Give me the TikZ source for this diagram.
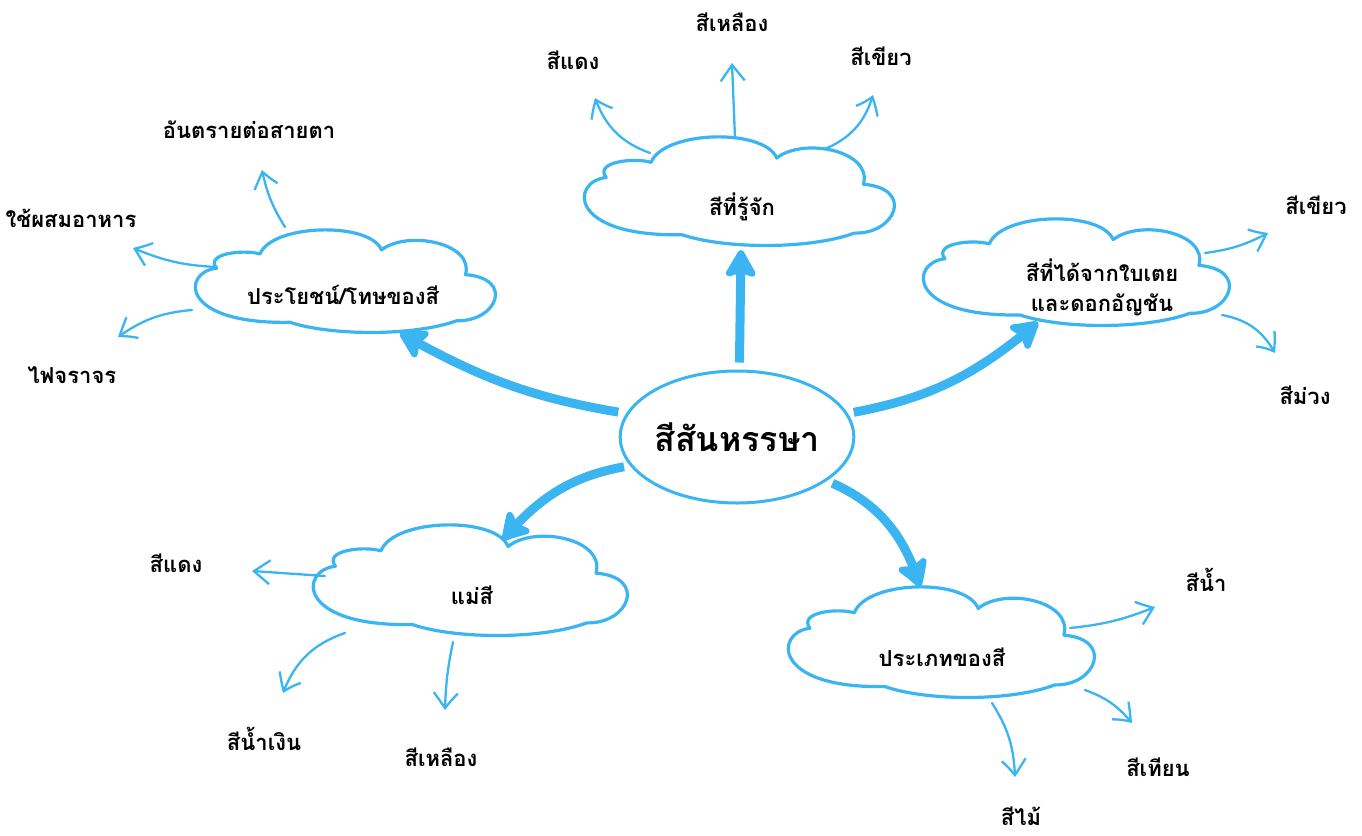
\documentclass[tikz,border=0pt]{standalone}
\usepackage{fontspec}
\newfontfamily\thaifont[Script=Thai]{Loma}
\usetikzlibrary{arrows.meta,bending,shapes.geometric}
\definecolor{sky}{HTML}{3BB4F2}
\tikzset{
  leaf/.style={font=\thaifont\bfseries\fontsize{22}{28}\selectfont, inner sep=0pt, text=black},
  cloudtxt/.style={font=\thaifont\bfseries\fontsize{22}{30}\selectfont, inner sep=0pt, align=center, text=black},
  maintxt/.style={font=\thaifont\bfseries\fontsize{34}{40}\selectfont, draw=sky, line width=3pt, ellipse, minimum width=232pt, minimum height=132pt, inner sep=0pt},
  cloudline/.style={draw=sky, line width=3.2pt, line join=round, fill=white},
  thinarrow/.style={draw=sky, line width=2.3pt, line cap=round, -{Straight Barb[length=16pt,width=24pt,bend]}},
  thickarrow/.style={draw=sky, line width=9pt, -{Stealth[length=32pt,width=36pt,inset=6pt,round,bend]}}
}
\newcommand\mycloud[4]{%
  \begin{scope}[shift={(#1,#2)}, xscale=#3, yscale=-#4]
    \path[cloudline] (-0.87,0.25) .. controls (-1.1,0.18) and (-1.12,-0.85) .. (-0.38,-0.81)
      .. controls (-0.1,-1.08) and (0.45,-1.08) .. (0.73,-0.78)
      .. controls (1.0,-0.8) and (1.12,0.05) .. (0.79,0.125)
      .. controls (0.85,0.75) and (0.4,1.0) .. (0.23,0.61)
      .. controls (0.15,1.17) and (-0.5,1.12) .. (-0.58,0.53)
      .. controls (-0.68,0.62) and (-0.95,0.55) .. (-0.87,0.25) -- cycle;
  \end{scope}}
\begin{document}
\begin{tikzpicture}[x=1pt,y=-1pt]
\useasboundingbox (0,0) rectangle (1362,835);
\fill[white] (0,0) rectangle (1362,835);

% clouds
\mycloud{741}{191}{155}{54}
\mycloud{347}{281}{150}{51}
\mycloud{1078}{272}{153}{53}
\mycloud{472}{580}{157}{55}
\mycloud{943}{642}{153}{55}

% centre
\node[maintxt] (c) at (737,437) {สีสันหรรษา};

% cloud texts
\node[cloudtxt] (k1) at (742,207) {สีที่รู้จัก};
\node[cloudtxt] (k2) at (343,295) {ประโยชน์/โทษของสี};
\node[cloudtxt] (k3) at (1102,287) {สีที่ได้จากใบเตย\\และดอกอัญชัน};
\node[cloudtxt] (k4) at (472,595) {แม่สี};
\node[cloudtxt] (k5) at (942,657) {ประเภทของสี};

% thick arrow tips
\coordinate (t1) at (741,250);
\coordinate (t2) at (400,333);
\coordinate (t3) at (1038,322);
\coordinate (t4) at (503,540);
\coordinate (t5) at (920,587);

\draw[thickarrow, shorten <=7pt] (c.88) -- (t1);
\draw[thickarrow, shorten <=8pt] (c.168) to[bend left=10] (t2);
\draw[thickarrow, shorten <=6pt] (c.12) to[bend right=15] (t3);
\draw[thickarrow, shorten <=6pt] (c.195) to[bend right=20] (t4);
\draw[thickarrow, shorten <=6pt] (c.-26) to[bend left=25] (t5);

% leaf labels
\node[leaf] (l1) at (573,60) {สีแดง};
\node[leaf] (l2) at (732,22) {สีเหลือง};
\node[leaf] (l3) at (881,56) {สีเขียว};
\node[leaf] (l4) at (249,130) {อันตรายต่อสายตา};
\node[leaf] (l5) at (71,218) {ใช้ผสมอาหาร};
\node[leaf] (l6) at (72,375) {ไฟจราจร};
\node[leaf] (l7) at (1316,205) {สีเขียว};
\node[leaf] (l8) at (1305,395) {สีม่วง};
\node[leaf] (l9) at (176,563) {สีแดง};
\node[leaf] (l10) at (264,739) {สีน้ำเงิน};
\node[leaf] (l11) at (441,757) {สีเหลือง};
\node[leaf] (l12) at (1206,580) {สีน้ำ};
\node[leaf] (l13) at (1158,767) {สีเทียน};
\node[leaf] (l14) at (1021,816) {สีไม้};

% thin arrow coordinates
\coordinate (a1) at (650,153);  \coordinate (b1) at (595,98);
\coordinate (a2) at (735,138);  \coordinate (b2) at (732,63);
\coordinate (a3) at (825,149);  \coordinate (b3) at (873,95);
\coordinate (a4) at (285,227);  \coordinate (b4) at (262,170);
\coordinate (a5) at (217,267);  \coordinate (b5) at (133,248);
\coordinate (a6) at (192,310);  \coordinate (b6) at (118,337);
\coordinate (a7) at (1205,253); \coordinate (b7) at (1268,233);
\coordinate (a8) at (1222,315); \coordinate (b8) at (1275,353);
\coordinate (a9) at (325,576);  \coordinate (b9) at (252,571);
\coordinate (a10) at (345,633); \coordinate (b10) at (283,693);
\coordinate (a11) at (453,642); \coordinate (b11) at (445,710);
\coordinate (a12) at (1070,628); \coordinate (b12) at (1155,607);
\coordinate (a13) at (1085,690); \coordinate (b13) at (1132,723);
\coordinate (a14) at (992,703); \coordinate (b14) at (1015,777);

\draw[thinarrow] (a1) to[bend left=25] (b1);
\draw[thinarrow] (a2) -- (b2);
\draw[thinarrow] (a3) to[bend right=25] (b3);
\draw[thinarrow] (a4) to[bend left=10] (b4);
\draw[thinarrow] (a5) to[bend left=10] (b5);
\draw[thinarrow] (a6) to[bend right=15] (b6);
\draw[thinarrow] (a7) to[bend right=10] (b7);
\draw[thinarrow] (a8) to[bend left=25] (b8);
\draw[thinarrow] (a9) -- (b9);
\draw[thinarrow] (a10) to[bend right=25] (b10);
\draw[thinarrow] (a11) to[bend right=5] (b11);
\draw[thinarrow] (a12) to[bend right=8] (b12);
\draw[thinarrow] (a13) to[bend left=15] (b13);
\draw[thinarrow] (a14) to[bend left=15] (b14);
\end{tikzpicture}
\end{document}
